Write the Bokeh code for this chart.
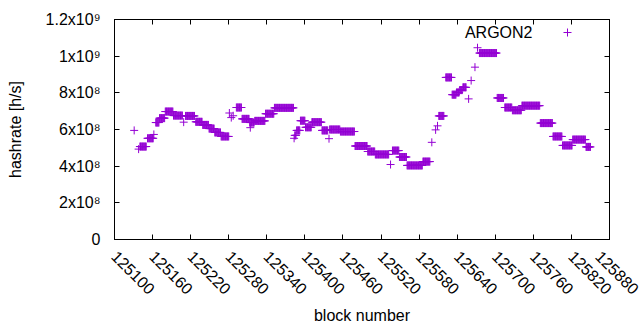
import math
import numpy as np
from bokeh.plotting import figure
from bokeh.models import Range1d, FixedTicker, LinearAxis, Label, Legend, LegendItem
from bokeh.embed import file_html
from bokeh.resources import INLINE

# Runs of consecutive blocks sharing one hashrate value
seg_start = [125131, 125138, 125140, 125152, 125162, 125165, 125171, 125180, 125193, 125209,
             125212, 125228, 125239, 125249, 125258, 125268, 125281, 125284, 125287, 125292,
             125301, 125313, 125314, 125321, 125338, 125352, 125383, 125384, 125387, 125393,
             125401, 125411, 125427, 125438, 125439, 125456, 125479, 125499, 125511, 125535,
             125538, 125549, 125561, 125586, 125600, 125606, 125609, 125611, 125622, 125632,
             125639, 125644, 125649, 125658, 125662, 125668, 125672, 125675, 125703, 125715,
             125727, 125742, 125771, 125791, 125806, 125822, 125843]
seg_end = [125131, 125138, 125150, 125161, 125162, 125170, 125179, 125192, 125207, 125209,
           125226, 125238, 125248, 125257, 125267, 125280, 125281, 125284, 125287, 125300,
           125312, 125320, 125314, 125337, 125351, 125382, 125383, 125386, 125392, 125400,
           125410, 125426, 125436, 125438, 125455, 125478, 125498, 125510, 125532, 125535,
           125548, 125560, 125585, 125597, 125600, 125606, 125609, 125619, 125631, 125638,
           125643, 125648, 125654, 125658, 125662, 125668, 125672, 125702, 125713, 125726,
           125741, 125770, 125790, 125805, 125821, 125842, 125850]
seg_rate = [5.95e8, 4.93e8, 5.07e8, 5.52e8, 5.73e8, 6.38e8, 6.62e8, 6.98e8, 6.76e8, 6.40e8,
            6.74e8, 6.42e8, 6.25e8, 6.05e8, 5.84e8, 5.62e8, 6.90e8, 6.65e8, 6.75e8, 7.20e8,
            6.58e8, 6.38e8, 6.10e8, 6.47e8, 6.86e8, 7.18e8, 5.52e8, 5.68e8, 5.95e8, 6.48e8,
            6.12e8, 6.40e8, 5.95e8, 5.50e8, 6.00e8, 5.89e8, 5.10e8, 4.80e8, 4.64e8, 4.09e8,
            4.85e8, 4.50e8, 4.04e8, 4.25e8, 5.30e8, 5.98e8, 6.20e8, 6.74e8, 8.84e8, 7.90e8,
            8.02e8, 8.15e8, 8.30e8, 7.67e8, 8.67e8, 9.40e8, 1.046e9, 1.017e9, 7.72e8, 7.20e8,
            7.05e8, 7.30e8, 6.35e8, 5.62e8, 5.13e8, 5.45e8, 5.05e8]

x_ticks = [125100, 125160, 125220, 125280, 125340, 125400, 125460, 125520, 125580,
           125640, 125700, 125760, 125820, 125880]
x_tick_labels = [str(t) for t in x_ticks]
y_ticks = [0, 2e8, 4e8, 6e8, 8e8, 1e9, 1.2e9]
y_tick_labels = ["0", "2x10⁸", "4x10⁸", "6x10⁸", "8x10⁸", "1x10⁹", "1.2x10⁹"]

series_name = "ARGON2"
color = "#9400D3"
FONT = "Liberation Sans"
FS = "16px"

blocks = np.concatenate([np.arange(s, e + 1) for s, e in zip(seg_start, seg_end)])
rates = np.concatenate([np.full(e - s + 1, r) for s, e, r in zip(seg_start, seg_end, seg_rate)])

p = figure(width=640, height=330, output_backend="svg", toolbar_location=None,
           x_range=Range1d(125100, 125880), y_range=Range1d(0, 1.2e9),
           min_border_left=114, min_border_right=31, min_border_top=19, min_border_bottom=91)
p.grid.visible = False
p.outline_line_color = "black"
p.outline_line_width = 1

r = p.scatter(blocks, rates, marker="cross", size=8, line_color=color, line_width=1)

def style(ax):
    ax.major_tick_in = 5
    ax.major_tick_out = 0
    ax.minor_tick_line_color = None
    ax.axis_line_color = "black"
    ax.major_tick_line_color = "black"
    ax.major_label_text_font = FONT
    ax.major_label_text_font_size = FS
    ax.major_label_text_color = "black"
    ax.axis_label_text_font = FONT
    ax.axis_label_text_font_size = FS
    ax.axis_label_text_font_style = "normal"
    ax.axis_label_text_color = "black"

xax = p.xaxis[0]
yax = p.yaxis[0]
style(xax)
style(yax)
xax.ticker = FixedTicker(ticks=x_ticks)
xax.major_label_overrides = {t: l for t, l in zip(x_ticks, x_tick_labels)}
xax.major_label_orientation = -math.pi / 4
xax.major_label_standoff = 14
xax.axis_label = "block number"
xax.axis_label_standoff = 4
yax.ticker = FixedTicker(ticks=y_ticks)
yax.major_label_overrides = {t: l for t, l in zip(y_ticks, y_tick_labels)}
yax.major_label_standoff = 14
yax.axis_label = "hashrate [h/s]"
yax.axis_label_standoff = 19

# mirrored tick marks on the top and right borders (no labels)
top = LinearAxis(ticker=FixedTicker(ticks=x_ticks))
top.major_label_overrides = {t: "" for t in x_ticks}
right = LinearAxis(ticker=FixedTicker(ticks=y_ticks))
right.major_label_overrides = {t: "" for t in y_ticks}
for ax in (top, right):
    style(ax)
    ax.major_label_text_font_size = "10px"
    ax.major_label_standoff = 0
p.add_layout(top, "above")
p.add_layout(right, "right")

legend = Legend(items=[LegendItem(label=" ", renderers=[r])], location=(443, 197),
                padding=0, margin=0, glyph_width=20, glyph_height=20, label_width=0,
                label_height=20, label_standoff=0, border_line_color=None,
                background_fill_alpha=0, label_text_font_size="10px")
p.add_layout(legend)
p.add_layout(Label(x=418, y=207, x_units="screen", y_units="screen", text=series_name,
                   text_align="right", text_baseline="middle", text_font=FONT,
                   text_font_size=FS, text_color="black"))

open("out.html", "w").write(file_html(p, INLINE))
